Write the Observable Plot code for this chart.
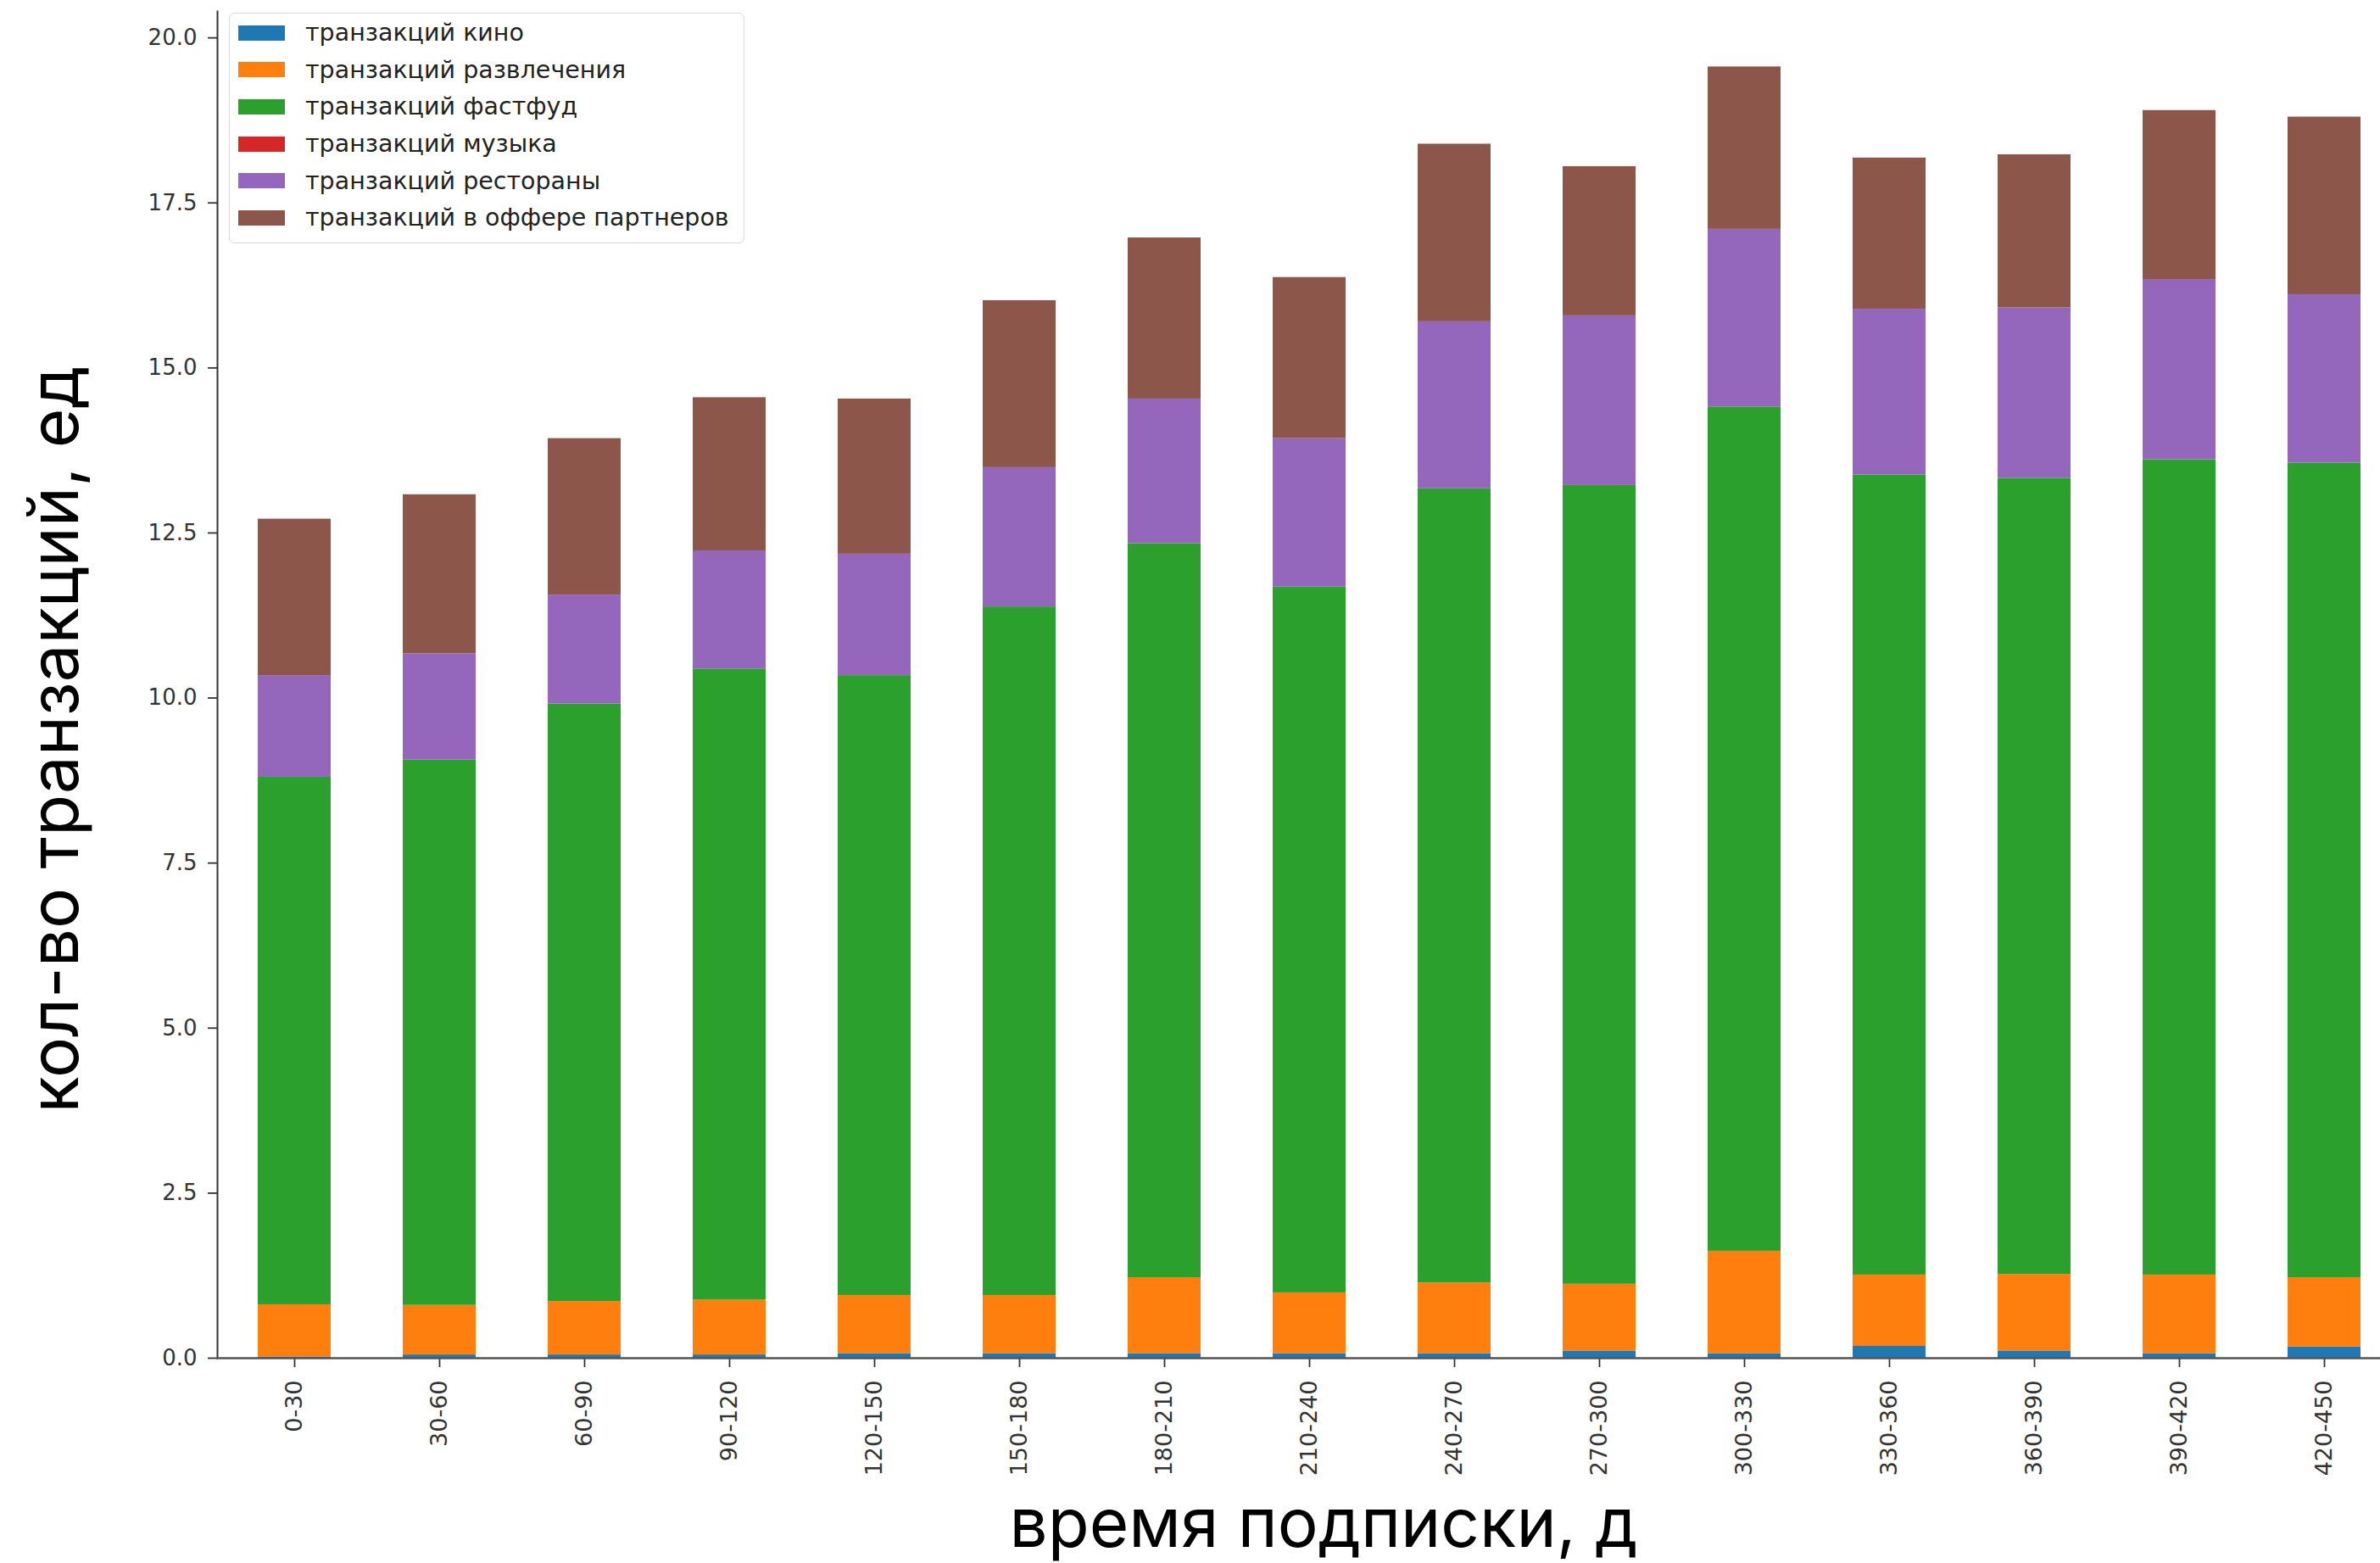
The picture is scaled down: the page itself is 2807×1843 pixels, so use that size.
<!DOCTYPE html>
<html>
<head>
<meta charset="utf-8">
<script src="https://cdn.jsdelivr.net/npm/d3@7"></script>
<script src="https://cdn.jsdelivr.net/npm/@observablehq/plot@0.6"></script>
<style>
  html, body { margin: 0; padding: 0; background: #fff; }
  #wrap { position: relative; width: 2807px; height: 1843px; overflow: hidden; background: #fff; }
  #wrap svg { max-width: none !important; }
  .legend { position: absolute; left: 270px; top: 15px; width: 608px; height: 272px;
    border: 1.5px solid #d9d9d9; border-radius: 7px; background: rgba(255,255,255,0.85);
    box-sizing: border-box; padding-top: 1px; font-family: "DejaVu Sans", sans-serif; font-size: 28.5px; color: #222; }
  .row { height: 43.6px; display: flex; align-items: center; }
  .sw { width: 55px; height: 18px; margin-left: 10px; margin-right: 24px; flex: none; }
  .title { position: absolute; font-family: Inter, "Liberation Sans", sans-serif; font-size: 80px; line-height: 80px;
    color: #000; text-align: center; white-space: nowrap; }
</style>
</head>
<body>
<div id="wrap"></div>
<script>
const categories = ["0-30","30-60","60-90","90-120","120-150","150-180","180-210","210-240","240-270","270-300","300-330","330-360","360-390","390-420","420-450"];
const seriesNames = ["транзакций кино","транзакций развлечения","транзакций фастфуд","транзакций музыка","транзакций рестораны","транзакций в оффере партнеров"];
const seriesColors = ["#1f77b4","#ff7f0e","#2ca02c","#d62728","#9467bd","#8c564b"];
const kino        = [0.02,0.05,0.05,0.05,0.07,0.07,0.07,0.07,0.07,0.11,0.07,0.18,0.11,0.07,0.17];
const razvlechenia= [0.79,0.75,0.81,0.83,0.88,0.88,1.15,0.92,1.07,1.01,1.55,1.08,1.16,1.19,1.05];
const fastfood    = [7.99,8.26,9.05,9.56,9.39,10.43,11.12,10.69,12.03,12.10,12.79,12.12,12.06,12.35,12.34];
const muzyka      = [0,0,0,0,0,0,0,0,0,0,0,0,0,0,0];
const restorany   = [1.54,1.61,1.65,1.79,1.84,2.11,2.19,2.25,2.53,2.57,2.69,2.51,2.58,2.73,2.55];
const partnery    = [2.37,2.41,2.37,2.32,2.35,2.53,2.44,2.44,2.69,2.26,2.46,2.29,2.32,2.56,2.69];
const yTicks = [0,2.5,5,7.5,10,12.5,15,17.5,20];
const xTitle = "время подписки, д";
const yTitle = "кол-во транзакций, ед";

const seriesValues = [kino, razvlechenia, fastfood, muzyka, restorany, partnery];
const data = [];
seriesNames.forEach((s, si) => categories.forEach((c, ci) => data.push({cat: c, series: s, value: seriesValues[si][ci]})));

const chart = Plot.plot({
  width: 2832,
  height: 1843,
  marginLeft: 256,
  marginRight: 0,
  marginTop: 13,
  marginBottom: 242,
  style: {background: "#fff", overflow: "visible"},
  x: {domain: categories, paddingInner: 0.5, paddingOuter: 0.25, label: null},
  y: {domain: [0, 20.4], label: null},
  color: {domain: seriesNames, range: seriesColors},
  marks: [
    Plot.barY(data, {x: "cat", y: "value", fill: "series", inset: 0}),
    Plot.axisY({ticks: yTicks, tickFormat: d3.format(".1f"), tickSize: 11, tickPadding: 13,
      fontSize: 26, fontFamily: "DejaVu Sans", fill: "#333", stroke: "#333", strokeWidth: 1.8, label: null}),
    Plot.axisX({tickSize: 11, tickPadding: 15, tickRotate: -90, fontSize: 27, fontFamily: "DejaVu Sans",
      fill: "#333", stroke: "#333", strokeWidth: 1.8, label: null}),
    Plot.frame({anchor: "left", stroke: "#333", strokeWidth: 2}),
    Plot.ruleY([0], {stroke: "#555", strokeWidth: 2.5})
  ]
});

const wrap = document.getElementById("wrap");
wrap.appendChild(chart);

// legend
const lg = document.createElement("div");
lg.className = "legend";
seriesNames.forEach((s, i) => {
  const r = document.createElement("div"); r.className = "row";
  const sw = document.createElement("div"); sw.className = "sw"; sw.style.background = seriesColors[i];
  const t = document.createElement("span"); t.textContent = s;
  r.appendChild(sw); r.appendChild(t); lg.appendChild(r);
});
wrap.appendChild(lg);

const xt = document.createElement("div");
xt.className = "title"; xt.textContent = xTitle;
xt.style.left = (1561 - 1000) + "px"; xt.style.width = "2000px"; xt.style.top = "1755px"; xt.style.height = "80px";
wrap.appendChild(xt);

const yt = document.createElement("div");
yt.className = "title"; yt.textContent = yTitle;
yt.style.left = (63 - 700) + "px"; yt.style.width = "1400px"; yt.style.top = (872 - 40) + "px"; yt.style.height = "80px";
yt.style.transform = "rotate(-90deg)";
wrap.appendChild(yt);
</script>
</body>
</html>
